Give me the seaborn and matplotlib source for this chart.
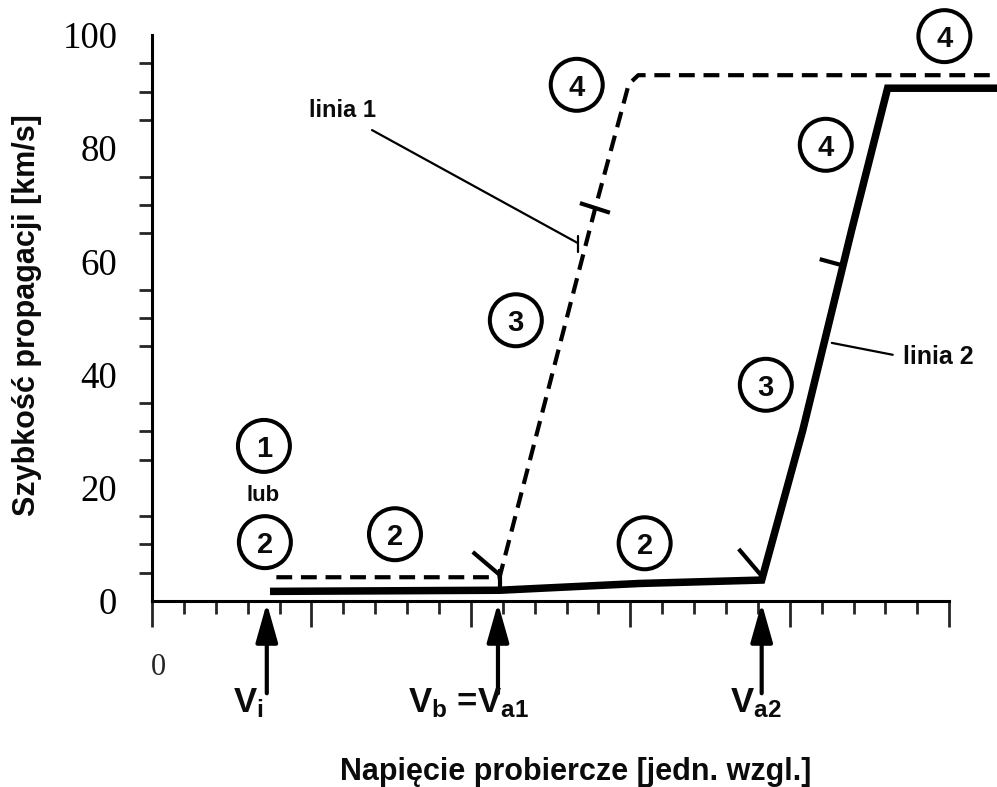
import matplotlib
matplotlib.use("Agg")
import matplotlib.pyplot as plt
import seaborn as sns
import pandas as pd
from matplotlib.ticker import MultipleLocator, FixedLocator, NullFormatter

# ---------------- data ----------------
# line 1 (dashed)
line1_x = [3.9, 10.9, 13.9, 14.76, 14.95, 15.25, 26.5]
line1_y = [4.2, 4.2, 69.4, 87.3, 91.3, 92.9, 92.9]
# line 2 (solid, thick)
line2_x = [3.7, 10.9, 15.3, 19.12, 20.41, 21.94, 23.07, 26.5]
line2_y = [1.7, 1.9, 3.1, 3.7, 30.2, 65.5, 90.6, 90.6]

y_ticks = [0, 20, 40, 60, 80, 100]
y_tick_labels = ["0", "20", "40", "60", "80", "100"]
x_major_ticks = [0, 5, 10, 15, 20, 25]
x_minor_ticks = list(range(0, 26))

# characteristic voltages
V_i, V_a1, V_a2 = 3.6, 10.85, 19.12
v_labels = [r"$\mathrm{V_i}$", r"$\mathrm{V_b}$ =$\mathrm{V_{a1}}$", r"$\mathrm{V_{a2}}$"]
v_label_x = [2.54, 8.03, 18.12]

# circled region numbers: (text, x, y) in data units
circ_text = ["4", "4", "4", "3", "3", "1", "2", "2", "2"]
circ_x = [13.32, 24.85, 21.13, 11.41, 19.25, 3.51, 3.54, 7.62, 15.45]
circ_y = [91.2, 99.8, 80.6, 49.6, 38.2, 27.4, 10.4, 11.8, 10.2]

# ---------------- style ----------------
sns.set_style("white")
plt.rcParams["font.family"] = ["Liberation Sans", "DejaVu Sans"]
plt.rcParams["mathtext.fontset"] = "custom"
plt.rcParams["mathtext.rm"] = "Liberation Sans:bold"
plt.rcParams["mathtext.bf"] = "Liberation Sans:bold"
plt.rcParams["mathtext.it"] = "Liberation Sans:bold"
plt.rcParams["mathtext.default"] = "rm"

INK = "#0b0b0b"

fig = plt.figure(figsize=(9.97, 7.87), dpi=100)
fig.patch.set_facecolor("white")
ax = fig.add_axes([152 / 997, (787 - 601) / 787, (997 - 152) / 997, (601 - 35) / 787])
ax.set_facecolor("none")

df1 = pd.DataFrame({"x": line1_x, "y": line1_y})
df2 = pd.DataFrame({"x": line2_x, "y": line2_y})

sns.lineplot(data=df2, x="x", y="y", sort=False, estimator=None, ax=ax,
             color="black", linewidth=5.4, clip_on=False)
ln2 = ax.lines[-1]
ln2.set_solid_joinstyle("miter")
ln2.set_solid_capstyle("butt")

sns.lineplot(data=df1, x="x", y="y", sort=False, estimator=None, ax=ax,
             color="black", linewidth=3.0, clip_on=False)
ln1 = ax.lines[-1]
ln1.set_linestyle((0, (3.8, 2.1)))
ln1.set_dash_capstyle("butt")

ax.set_xlabel("")
ax.set_ylabel("")
ax.set_xlim(0, 26.5)
ax.set_ylim(0, 100)

# spines
for s in ["top", "right"]:
    ax.spines[s].set_visible(False)
for s in ["left", "bottom"]:
    ax.spines[s].set_linewidth(2.2)
    ax.spines[s].set_color("black")
ax.spines["bottom"].set_bounds(0, 25)
ax.spines["left"].set_bounds(0, 100)

# ticks
ax.yaxis.set_major_locator(FixedLocator(y_ticks))
ax.set_yticklabels(y_tick_labels, fontfamily="Liberation Serif", fontsize=26.5)
ax.yaxis.set_minor_locator(MultipleLocator(5))
ax.xaxis.set_major_locator(FixedLocator(x_major_ticks))
ax.xaxis.set_minor_locator(FixedLocator(x_minor_ticks))
ax.xaxis.set_major_formatter(NullFormatter())
ax.tick_params(axis="y", which="major", direction="out", length=18.5, width=2.0, pad=6.5, colors="black")
ax.tick_params(axis="y", which="minor", direction="out", length=9.5, width=2.0, left=True)
ax.tick_params(axis="x", which="major", direction="out", length=18.5, width=2.0, bottom=True)
ax.tick_params(axis="x", which="minor", direction="out", length=9.5, width=2.0, bottom=True)

# "0" of the voltage axis
ax.text(0.19, -11.8, "0", fontfamily="Liberation Serif", fontsize=22,
        ha="center", va="center", clip_on=False)

# axis titles
fig.text(27 / 997, 1 - 315 / 787, "Szybkość propagacji [km/s]", rotation=90,
         fontsize=22, fontweight="bold", color=INK, ha="center", va="center")
fig.text(576 / 997, 1 - 772 / 787, "Napięcie probiercze [jedn. wzgl.]",
         fontsize=22, fontweight="bold", color=INK, ha="center", va="center")

# arrows marking characteristic voltages
for vx, lab, lx in zip([V_i, V_a1, V_a2], v_labels, v_label_x):
    ax.annotate("", xy=(vx, -0.35), xytext=(vx, -16.3),
                arrowprops=dict(arrowstyle="-|>,head_length=1.7,head_width=0.48",
                                mutation_scale=14, lw=3, color="black",
                                shrinkA=0, shrinkB=0),
                annotation_clip=False)
    ax.text(lx, -19.6, lab, fontsize=25, fontweight="bold", color=INK,
            ha="left", va="baseline", clip_on=False)

# circled numbers
ax.scatter(circ_x, circ_y, s=1400, facecolors="none", edgecolors="black",
           linewidths=2.9, clip_on=False, zorder=5)
for t, cx, cy in zip(circ_text, circ_x, circ_y):
    ax.text(cx, cy, t, fontsize=21, fontweight="bold", color=INK,
            ha="center", va="center_baseline", zorder=6, clip_on=False)
ax.text(3.48, 18.7, "lub", fontsize=16, fontweight="bold", color=INK,
        ha="center", va="center", clip_on=False)

# region boundary marks
seg_kw = dict(color="black", lw=3, clip_on=False, solid_capstyle="butt")
ax.plot([10.06, 10.91], [8.66, 4.59], **seg_kw)
ax.plot([10.91, 10.91], [5.6, 1.6], **seg_kw)
ax.plot([13.42, 14.36], [70.3, 68.6], **seg_kw)
ax.plot([18.4, 19.12], [9.19, 4.42], **seg_kw)
ax.plot([20.94, 21.72], [60.4, 59.2], **seg_kw)

# leaders and line names
ax.plot([6.9, 13.35], [83.2, 63.25], color="black", lw=1.6, clip_on=False)
ax.plot([13.35, 13.35], [64.4, 61.7], color="black", lw=1.6, clip_on=False)
ax.text(5.96, 86.6, "linia 1", fontsize=17, fontweight="bold", color=INK,
        ha="center", va="center", clip_on=False)
ax.plot([21.32, 23.23], [45.6, 43.5], color="black", lw=1.6, clip_on=False)
ax.text(23.54, 43.1, "linia 2", fontsize=18, fontweight="bold", color=INK,
        ha="left", va="center", clip_on=False)

fig.savefig("out.png", dpi=100, facecolor="white")
